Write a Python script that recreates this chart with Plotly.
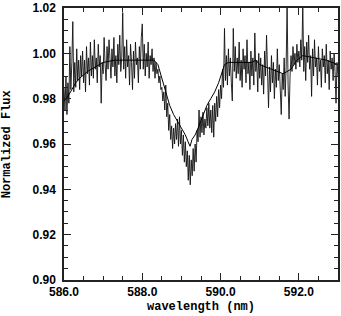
import plotly.graph_objects as go

# Observed spectrum: sampled from 586.0 nm with a 0.025 nm step
wave_start = 586.0
wave_step = 0.025
flux = [
    0.985, 0.975, 0.990, 0.973, 0.987, 0.978, 1.003, 0.984, 0.996, 1.014,
    0.983, 0.996, 0.985, 1.002, 0.988, 0.997, 0.984, 0.999, 0.990, 1.001,
    0.987, 0.997, 0.983, 1.003, 0.991, 0.998, 0.986, 1.005, 0.990, 0.999,
    0.989, 1.006, 0.993, 0.998, 0.987, 1.004, 0.994, 0.999, 0.978, 0.996,
    0.991, 1.007, 0.995, 0.988, 1.003, 0.993, 1.006, 0.996, 0.989, 1.002,
    0.994, 1.007, 0.990, 0.999, 0.987, 1.004, 0.995, 1.008, 0.992, 0.998,
    1.018, 0.993, 1.003, 0.989, 1.006, 0.994, 0.999, 0.986, 1.004, 0.996,
    0.984, 1.001, 0.989, 1.005, 0.995, 0.998, 0.987, 1.003, 0.993, 1.007,
    1.013, 0.993, 1.004, 0.990, 1.000, 0.994, 1.005, 0.989, 0.999, 0.995,
    1.002, 0.992, 0.998, 0.989, 0.996, 0.991, 0.993, 0.987, 0.990, 0.984,
    0.985, 0.979, 0.983, 0.975, 0.986, 0.972, 0.978, 0.966, 0.973, 0.962,
    0.968, 0.958, 0.967, 0.960, 0.969, 0.962, 0.971, 0.959, 0.972, 0.960,
    0.966, 0.955, 0.964, 0.952, 0.961, 0.950, 0.957, 0.944, 0.955, 0.942,
    0.953, 0.946, 0.958, 0.948, 0.960, 0.952, 0.966, 0.961, 0.975, 0.963,
    0.972, 0.965, 0.974, 0.964, 0.971, 0.967, 0.976, 0.968, 0.978, 0.967,
    0.975, 0.965, 0.977, 0.963, 0.978, 0.970, 0.981, 0.972, 0.984, 0.976,
    0.986, 0.980, 0.993, 0.985, 1.011, 0.988, 0.999, 0.986, 1.002, 0.990,
    0.998, 0.987, 0.979, 1.011, 0.992, 1.003, 0.989, 0.998, 0.991, 1.005,
    0.988, 0.997, 0.985, 1.002, 0.993, 0.999, 0.987, 1.006, 0.991, 0.996,
    0.984, 1.001, 0.990, 0.998, 0.986, 1.009, 0.992, 0.997, 0.983, 1.000,
    0.989, 0.998, 0.986, 0.995, 0.982, 1.001, 0.990, 1.008, 0.985, 0.976,
    0.994, 0.983, 0.999, 0.987, 0.996, 0.980, 0.993, 0.985, 1.002, 0.988,
    0.995, 0.982, 0.973, 0.991, 0.984, 0.998, 0.981, 0.994, 1.022, 0.986,
    0.971, 0.990, 0.999, 0.992, 1.003, 0.995, 1.000, 0.993, 1.004, 0.996,
    1.001, 0.994, 1.006, 0.997, 1.022, 0.992, 1.003, 0.988, 1.005, 0.996,
    1.008, 0.993, 0.999, 0.981, 1.002, 0.990, 1.006, 0.994, 0.998, 0.986,
    1.003, 0.992, 0.997, 0.985, 1.002, 0.994, 0.999, 0.987, 1.004, 0.991,
    0.997, 0.984, 1.001, 0.993, 0.998, 0.988, 1.000, 0.992, 0.978, 0.996,
    0.990,
]

# Smooth model profile
model_wave = [
    586.0, 586.1, 586.2, 586.3, 586.4, 586.6, 586.8, 587.0, 587.3, 587.6,
    588.0, 588.3, 588.4, 588.5, 588.6, 588.7, 588.8, 588.9, 589.0, 589.1,
    589.17, 589.22, 589.27, 589.35, 589.45, 589.55, 589.65, 589.75, 589.85, 589.95,
    590.0, 590.1, 590.2, 590.5, 590.8, 590.9, 591.0, 591.3, 591.6, 591.8,
    591.95, 592.1, 592.4, 592.7, 593.0,
]
model_flux = [
    0.979, 0.981, 0.984, 0.987, 0.989, 0.992, 0.994, 0.996, 0.997, 0.997,
    0.997, 0.997, 0.995, 0.989, 0.982, 0.977, 0.973, 0.970, 0.967, 0.964,
    0.961, 0.959, 0.962, 0.964, 0.968, 0.973, 0.977, 0.980, 0.983, 0.987,
    0.990, 0.995, 0.996, 0.996, 0.996, 0.997, 0.995, 0.993, 0.991, 0.993,
    0.997, 0.999, 0.998, 0.997, 0.995,
]

x_tickvals = [586.0, 588.0, 590.0, 592.0]
x_ticktext = ["586.0", "588.0", "590.0", "592.0"]
y_tickvals = [0.90, 0.92, 0.94, 0.96, 0.98, 1.00, 1.02]
y_ticktext = ["0.90", "0.92", "0.94", "0.96", "0.98", "1.00", "1.02"]

fig = go.Figure()
fig.add_trace(go.Scatter(
    x0=wave_start, dx=wave_step, y=flux, mode="lines",
    line=dict(color="#111111", width=0.9), showlegend=False,
))
fig.add_trace(go.Scatter(
    x=model_wave, y=model_flux, mode="lines",
    line=dict(color="#000000", width=1), showlegend=False,
))

tickfont = dict(family="Liberation Sans", size=12, color="#000", weight="bold")
axis_common = dict(
    showgrid=False, zeroline=False, showline=True, mirror="allticks",
    linecolor="#222", linewidth=1.5, ticks="inside", ticklen=7,
    tickwidth=1.2, tickcolor="#222", tickfont=tickfont,
    ticklabeloverflow="allow",
)

fig.update_xaxes(
    range=[586.0, 593.0], tickmode="array", tickvals=x_tickvals,
    ticktext=x_ticktext, ticklabelstandoff=0,
    minor=dict(dtick=0.5, tick0=586.0, ticks="inside", ticklen=4,
               tickwidth=1.2, tickcolor="#222"),
    **axis_common,
)
fig.update_yaxes(
    range=[0.89999, 1.02001], tickmode="array", tickvals=y_tickvals,
    ticktext=y_ticktext, ticklabelstandoff=4,
    minor=dict(dtick=0.005, tick0=0.90, ticks="inside", ticklen=4,
               tickwidth=1.2, tickcolor="#222"),
    **axis_common,
)

titlefont = dict(family="Liberation Mono", size=12, color="#000", weight="bold")
fig.update_layout(
    width=341, height=316,
    margin=dict(l=64, r=1, t=5, b=36),
    plot_bgcolor="white", paper_bgcolor="white",
    annotations=[
        dict(text="wavelength (nm)", x=0.5, y=-0.1, xref="paper", yref="paper",
             xanchor="center", yanchor="middle", showarrow=False, font=titlefont),
        dict(text="Normalized Flux", x=-0.207, y=0.5, xref="paper", yref="paper",
             xanchor="center", yanchor="middle", showarrow=False, textangle=-90,
             font=titlefont),
    ],
)

fig.write_html(
    "out.html",
    config={"displayModeBar": False},
    post_script="document.body.style.margin='0';document.body.style.overflow='hidden';",
)
